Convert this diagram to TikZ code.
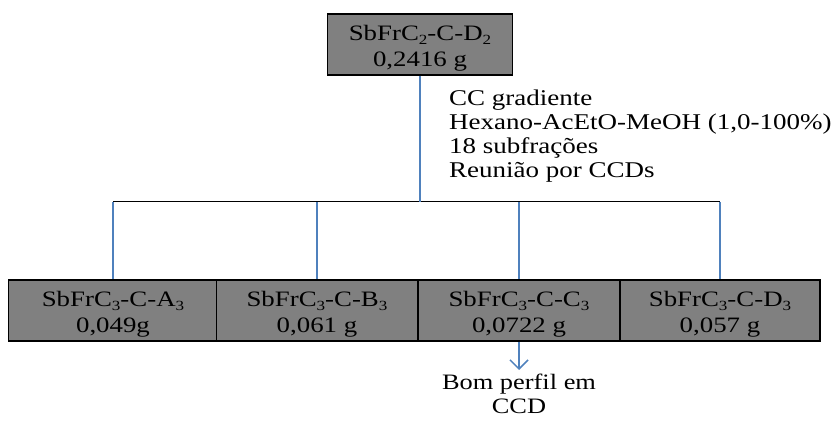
\documentclass[tikz,border=0pt]{standalone}
\usepackage{fontspec}
\setmainfont{Liberation Serif}
\usetikzlibrary{arrows.meta}
\definecolor{boxgray}{HTML}{808080}
\definecolor{lineblue}{HTML}{4F81BD}
\newcommand\lowsub[1]{\raisebox{-0.35ex}{\fontsize{14}{14}\selectfont #1}}
\newcommand\boxtext[2]{\raisebox{-4pt}[\height][\depth]{\scalebox{1.22}[1]{\begin{tabular}{@{}c@{}}#1\\#2\end{tabular}}}}
\tikzset{
  sample/.style={draw=black, line width=1.5pt, fill=boxgray, inner sep=0pt,
    minimum height=61pt, font=\fontsize{22}{26}\selectfont},
  blueline/.style={draw=lineblue, line width=2pt},
  blackline/.style={draw=black, line width=1pt},
}
\begin{document}
\begin{tikzpicture}[x=1pt,y=1pt]
\useasboundingbox (0,0) rectangle (833,423);
\node[sample, minimum width=185pt] (top) at (420,378.5) {\boxtext{SbFrC\lowsub{2}-C-D\lowsub{2}}{0,2416 g}};
\node[sample, minimum width=209pt] (a) at (113,112.5) {\boxtext{SbFrC\lowsub{3}-C-A\lowsub{3}}{0,049g}};
\node[sample, minimum width=201pt] (b) at (317,112.5) {\boxtext{SbFrC\lowsub{3}-C-B\lowsub{3}}{0,061 g}};
\node[sample, minimum width=202pt] (c) at (519,112.5) {\boxtext{SbFrC\lowsub{3}-C-C\lowsub{3}}{0,0722 g}};
\node[sample, minimum width=200pt] (d) at (720,112.5) {\boxtext{SbFrC\lowsub{3}-C-D\lowsub{3}}{0,057 g}};
\coordinate (j) at (420,221);
\coordinate (ja) at (113,221);
\coordinate (jb) at (317,221);
\coordinate (jc) at (519,221);
\coordinate (jd) at (720,221);
\draw[blackline] (ja) -- (jd);
\draw[blueline] (top.south) -- (j);
\draw[blueline] (ja) -- (a.north);
\draw[blueline] (jb) -- (b.north);
\draw[blueline] (jc) -- (c.north);
\draw[blueline] (jd) -- (d.north);
\node[anchor=west, inner sep=0pt, align=left, font=\fontsize{22.5}{24}\selectfont] (note) at (449,286)
  {\scalebox{1.2}[1]{\begin{tabular}{@{}l@{}}CC gradiente\\Hexano-AcEtO-MeOH (1,0-100\%)\\18 subfrações\\Reunião por CCDs\end{tabular}}};
\node[inner sep=0pt, font=\fontsize{22}{24}\selectfont] (bom) at (519,26)
  {\scalebox{1.2}[1]{\begin{tabular}{@{}c@{}}Bom perfil em\\CCD\end{tabular}}};
\coordinate (tip) at (519,53);
\draw[blueline, -{Straight Barb[length=9pt,width=18pt,line width=1.5pt]}] (c.south) -- (tip);
\end{tikzpicture}
\end{document}
